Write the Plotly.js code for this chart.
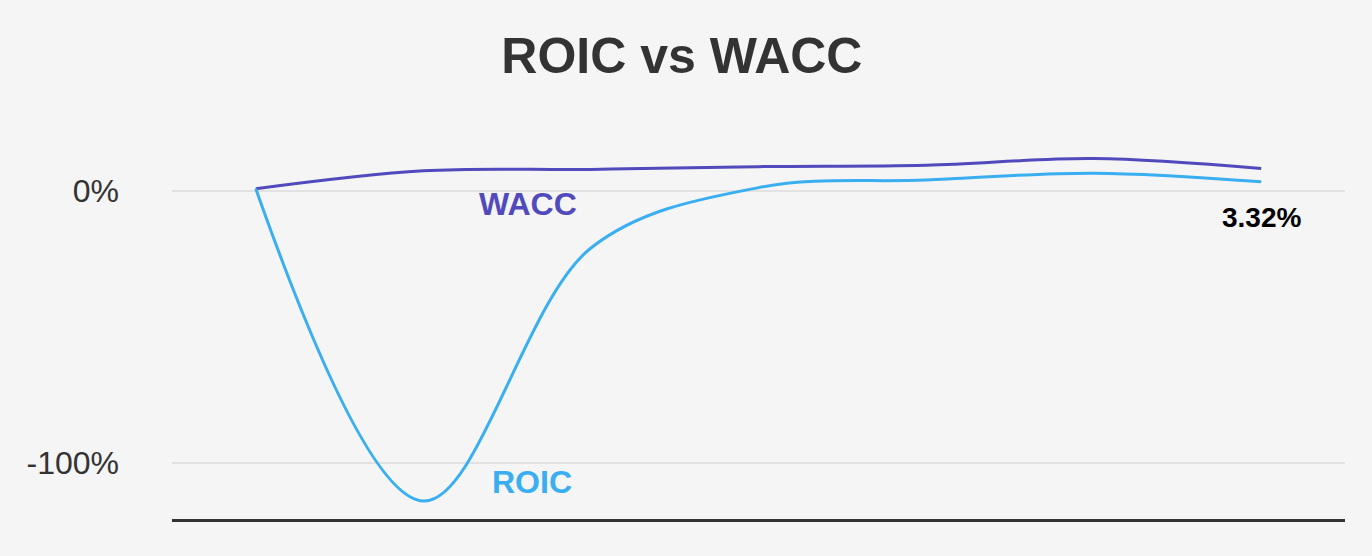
<!DOCTYPE html>
<html>
<head>
<meta charset="utf-8">
<script src="https://cdn.plot.ly/plotly-3.0.1.min.js"></script>
<style>
  html, body { margin: 0; padding: 0; background: #f5f5f5; }
  #chart { width: 1372px; height: 556px; }
</style>
</head>
<body>
<div id="chart"></div>
<script>
// Periods (x categories, labels hidden in the original chart)
const periods = ['P1', 'P2', 'P3', 'P4', 'P5', 'P6', 'P7'];
// Series values in percent
const roic = [0.8, -114, -21, 1.2, 4.0, 6.5, 3.32];
const wacc = [0.8, 7.4, 7.9, 8.9, 9.4, 11.9, 8.2];
// Y tick values and labels
const yTickVals = [0, -100];
const yTickText = ['0%', '-100%'];
const lastLabel = '3.32%';

const roicColor = '#39aef0';
const waccColor = '#514abd';

const traces = [
  {
    x: periods, y: wacc, name: 'WACC', type: 'scatter', mode: 'lines',
    line: { color: waccColor, width: 3, shape: 'spline', smoothing: 1 },
    hoverinfo: 'skip'
  },
  {
    x: periods, y: roic, name: 'ROIC', type: 'scatter', mode: 'lines',
    line: { color: roicColor, width: 3, shape: 'spline', smoothing: 1 },
    hoverinfo: 'skip'
  }
];

const layout = {
  width: 1372, height: 556,
  paper_bgcolor: '#f5f5f5', plot_bgcolor: '#f5f5f5',
  margin: { l: 172, r: 27, t: 100, b: 37 },
  showlegend: false,
  font: { family: 'Liberation Sans, Arial, sans-serif', color: '#333' },
  title: {
    text: '<b>ROIC vs WACC</b>',
    font: { family: 'Liberation Sans, Arial, sans-serif', size: 50, color: '#333333' },
    x: 0.497, xanchor: 'center', xref: 'container',
    y: 0.9, yanchor: 'middle', yref: 'container'
  },
  xaxis: {
    type: 'category',
    range: [-0.5, 6.5],
    showticklabels: false, ticks: '',
    showgrid: false, zeroline: false,
    showline: true, linecolor: '#333333', linewidth: 3
  },
  yaxis: {
    range: [-120.6, 33.4],
    tickvals: yTickVals, ticktext: yTickText,
    tickfont: { size: 32, color: '#333333' },
    ticks: '', ticklabelstandoff: 52,
    showgrid: true, gridcolor: '#e2e2e2', gridwidth: 2,
    zeroline: true, zerolinecolor: '#e2e2e2', zerolinewidth: 2,
    showline: false
  },
  annotations: [
    {
      xref: 'paper', yref: 'paper', x: 0.3035, y: 0.752,
      xanchor: 'center', yanchor: 'middle',
      text: '<b>WACC</b>', showarrow: false,
      font: { size: 32, color: waccColor }
    },
    {
      xref: 'paper', yref: 'paper', x: 0.307, y: 0.088,
      xanchor: 'center', yanchor: 'middle',
      text: '<b>ROIC</b>', showarrow: false,
      font: { size: 32, color: roicColor }
    },
    {
      x: periods[periods.length - 1], y: roic[roic.length - 1],
      xanchor: 'center', yanchor: 'middle',
      text: '<b>' + lastLabel + '</b>', showarrow: false,
      yshift: -36,
      font: { size: 28, color: '#000000' }
    }
  ]
};

Plotly.newPlot('chart', traces, layout, { staticPlot: true, displayModeBar: false });
</script>
</body>
</html>
